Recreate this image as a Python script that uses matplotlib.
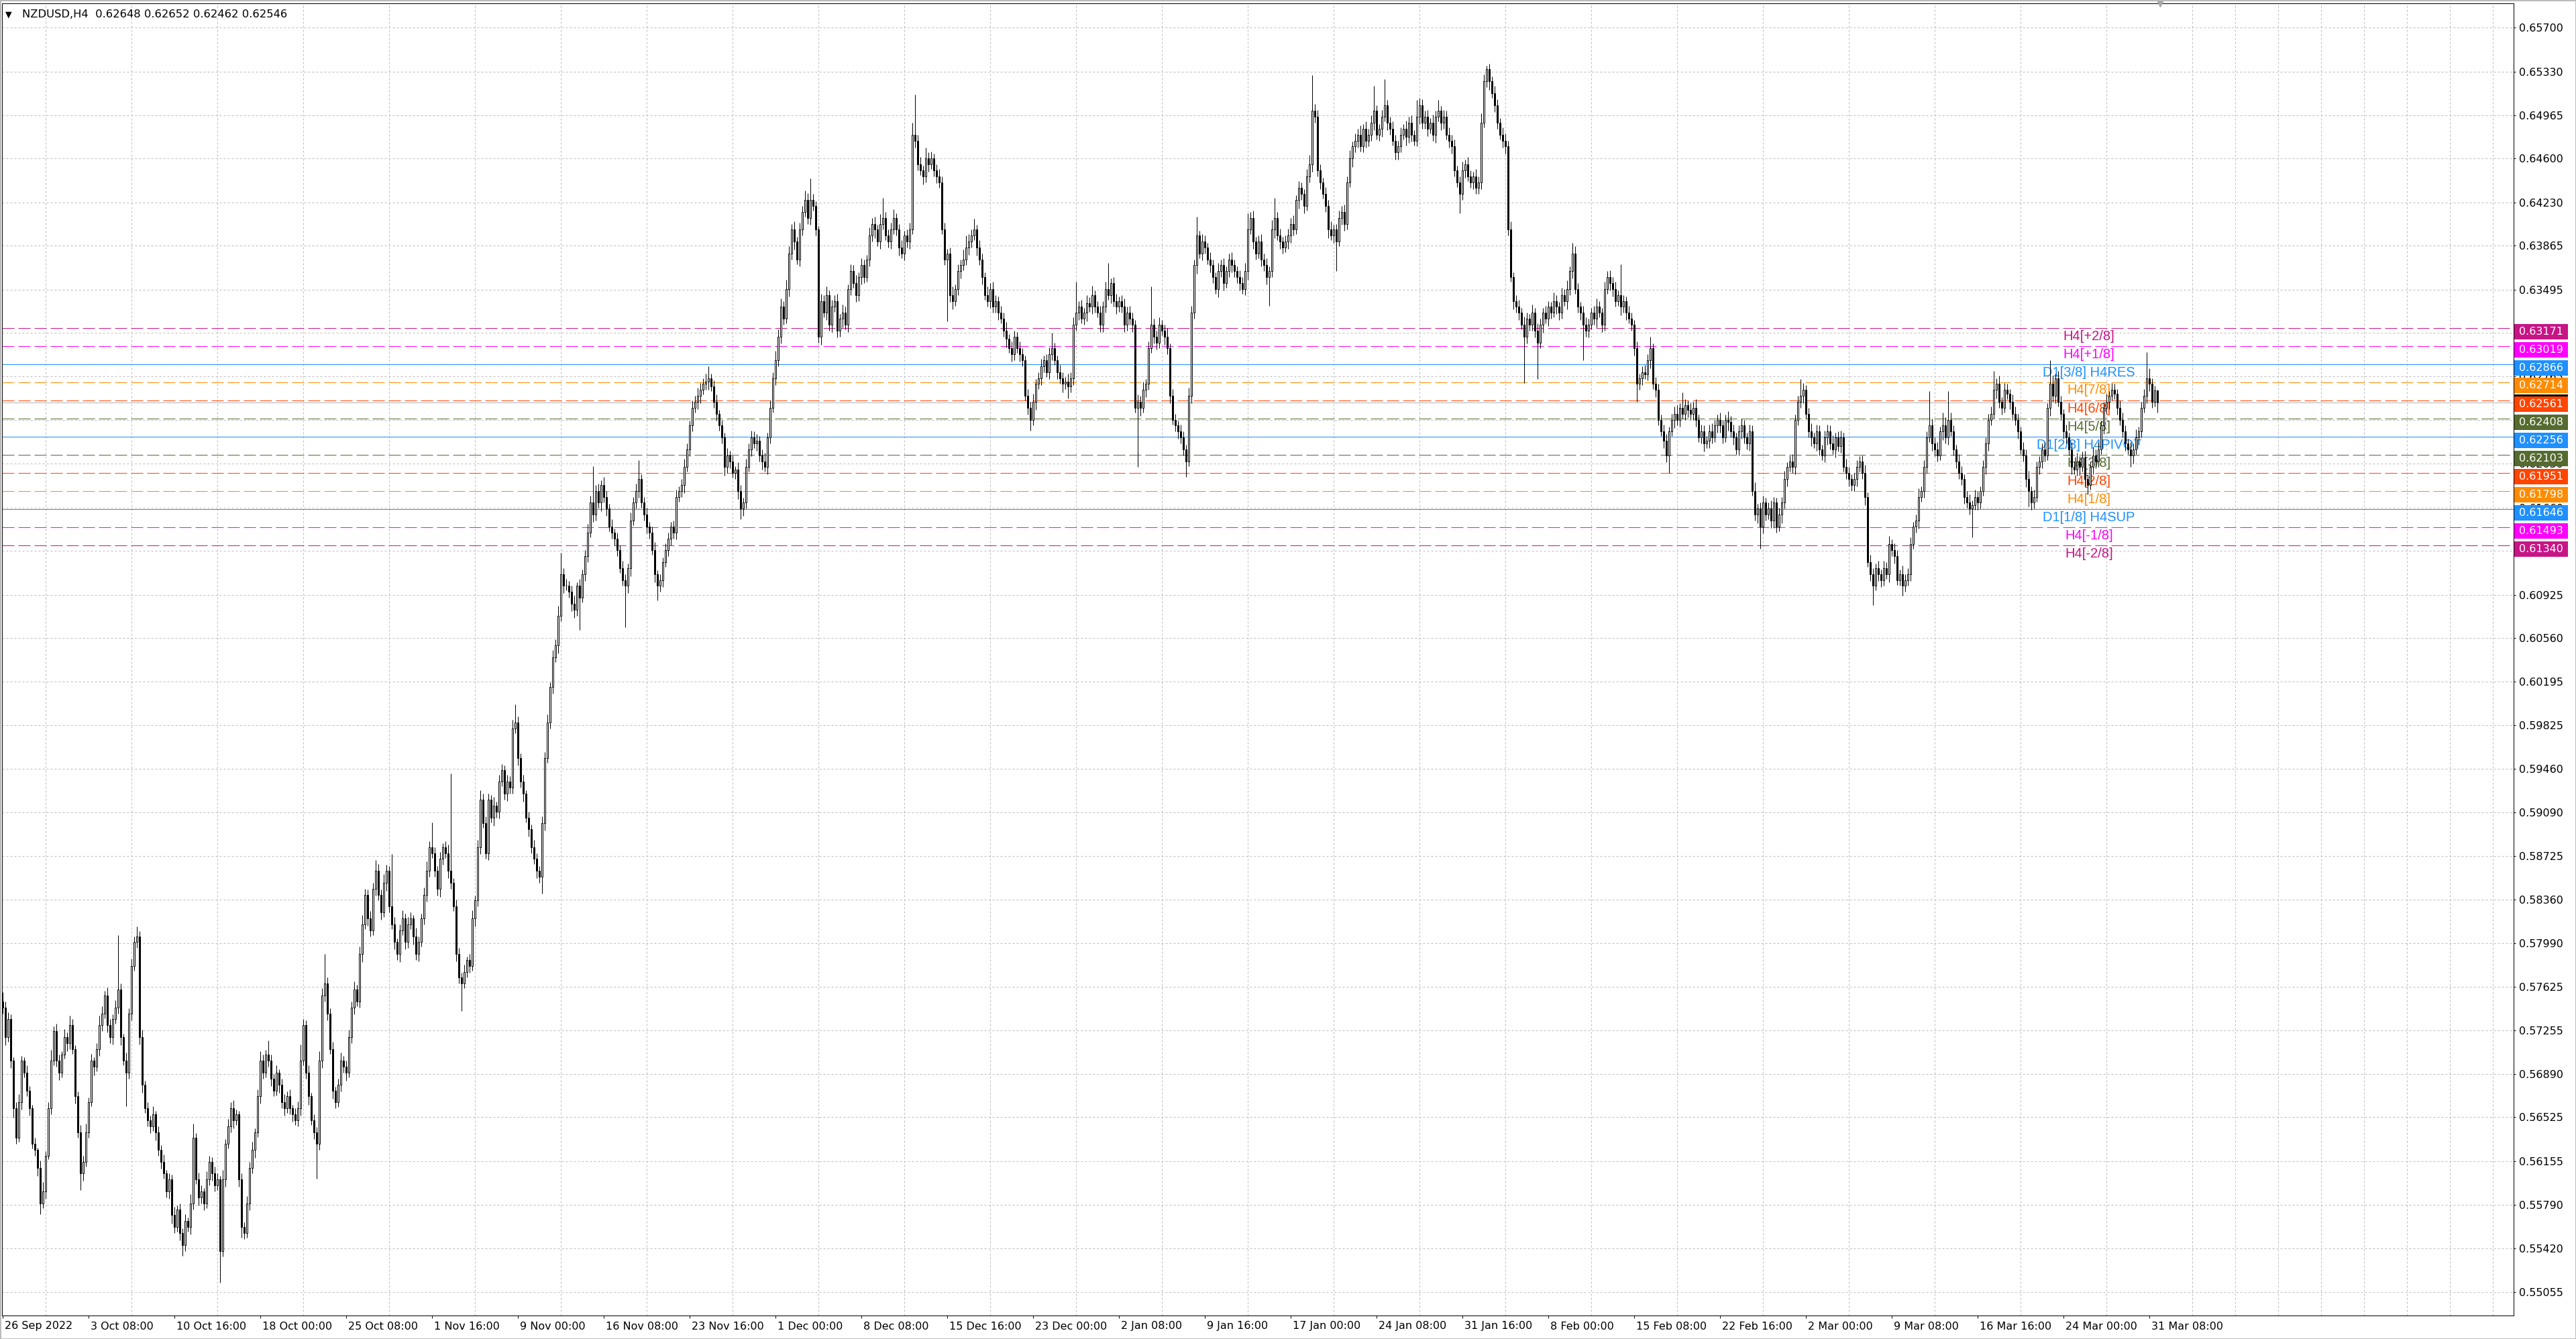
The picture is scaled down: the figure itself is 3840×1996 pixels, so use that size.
import matplotlib
matplotlib.use("Agg")
import matplotlib.pyplot as plt
import numpy as np
from matplotlib.patches import Rectangle
from matplotlib.transforms import IdentityTransform, offset_copy, blended_transform_factory

plt.rcParams['lines.scale_dashes'] = False
plt.rcParams['font.family'] = ['DejaVu Sans']

W, H, DPI = 3840, 1996, 100

# ---------------- data ----------------
symbol = "NZDUSD,H4"
last_ohlc = [0.62648, 0.62652, 0.62462, 0.62546]
bid_price = 0.62546

first_open = 5750  # price * 1e4
closes = [
    5745,5720,5735,5700,5660,5635,5665,5700,5690,5675,
    5660,5630,5625,5610,5580,5590,5620,5660,5700,5725,
    5700,5690,5705,5720,5715,5730,5710,5670,5640,5605,
    5615,5640,5665,5700,5695,5710,5730,5740,5755,5730,
    5720,5735,5745,5760,5720,5700,5690,5740,5780,5800,
    5805,5720,5680,5660,5650,5645,5655,5640,5625,5615,
    5605,5590,5600,5570,5560,5575,5555,5545,5565,5560,
    5580,5635,5600,5585,5590,5580,5600,5615,5605,5595,
    5600,5540,5600,5630,5645,5660,5650,5655,5600,5560,
    5555,5580,5610,5625,5640,5670,5700,5690,5705,5700,
    5685,5675,5690,5680,5665,5660,5670,5660,5655,5650,
    5660,5700,5730,5690,5670,5650,5640,5630,5700,5755,
    5765,5740,5710,5675,5665,5680,5700,5695,5690,5720,
    5745,5760,5750,5790,5815,5840,5820,5810,5845,5860,
    5840,5825,5850,5860,5830,5815,5800,5790,5810,5820,
    5800,5815,5820,5805,5790,5800,5820,5840,5860,5880,
    5875,5860,5845,5870,5880,5875,5860,5850,5830,5790,
    5770,5765,5775,5785,5780,5820,5835,5880,5920,5900,
    5875,5920,5905,5915,5910,5935,5945,5925,5935,5930,
    5980,5985,5955,5935,5925,5905,5895,5880,5870,5860,
    5855,5900,5955,5985,6015,6040,6050,6075,6110,6100,
    6100,6095,6085,6080,6100,6090,6110,6125,6145,6170,
    6160,6180,6170,6185,6175,6165,6150,6145,6140,6130,
    6115,6105,6100,6115,6155,6170,6180,6190,6170,6160,
    6150,6145,6130,6110,6100,6105,6120,6130,6140,6150,
    6145,6175,6180,6185,6200,6215,6235,6250,6255,6260,
    6265,6270,6272,6275,6268,6255,6245,6235,6225,6200,
    6210,6205,6195,6198,6180,6165,6170,6200,6215,6225,
    6220,6222,6210,6205,6200,6225,6250,6275,6290,6310,
    6335,6325,6350,6380,6400,6390,6375,6400,6415,6425,
    6410,6425,6420,6400,6310,6340,6330,6345,6320,6335,
    6340,6315,6325,6330,6320,6350,6365,6355,6345,6360,
    6370,6360,6375,6395,6405,6400,6390,6405,6410,6395,
    6390,6400,6410,6400,6385,6380,6395,6390,6400,6480,
    6475,6455,6450,6445,6460,6455,6460,6450,6445,6440,
    6400,6375,6380,6345,6340,6350,6365,6370,6375,6385,
    6390,6395,6400,6385,6375,6360,6345,6340,6350,6335,
    6340,6330,6325,6315,6308,6300,6295,6310,6300,6295,
    6290,6260,6250,6240,6255,6270,6275,6285,6290,6280,
    6295,6300,6290,6280,6275,6270,6272,6268,6275,6320,
    6330,6335,6325,6330,6338,6335,6345,6335,6330,6320,
    6335,6350,6345,6355,6340,6335,6340,6335,6320,6330,
    6325,6320,6250,6255,6250,6265,6270,6300,6320,6310,
    6305,6320,6315,6310,6300,6260,6240,6235,6230,6225,
    6215,6205,6260,6330,6370,6395,6380,6390,6385,6375,
    6370,6360,6350,6365,6370,6355,6365,6375,6370,6365,
    6360,6355,6350,6365,6400,6410,6390,6380,6390,6375,
    6370,6360,6365,6400,6410,6395,6390,6385,6390,6395,
    6405,6400,6425,6435,6430,6420,6445,6455,6500,6495,
    6450,6440,6430,6420,6400,6395,6400,6390,6410,6415,
    6405,6440,6460,6470,6475,6480,6470,6485,6475,6480,
    6490,6500,6480,6485,6495,6505,6490,6485,6475,6465,
    6470,6480,6485,6478,6490,6480,6475,6495,6505,6490,
    6495,6485,6490,6480,6495,6500,6490,6495,6480,6475,
    6470,6450,6440,6430,6450,6455,6445,6440,6445,6435,
    6440,6490,6525,6535,6525,6515,6505,6490,6480,6475,
    6470,6400,6360,6340,6335,6330,6320,6310,6325,6320,
    6330,6315,6305,6320,6330,6325,6335,6330,6340,6335,
    6330,6345,6340,6350,6365,6380,6350,6335,6330,6320,
    6315,6320,6330,6325,6335,6330,6320,6350,6360,6355,
    6350,6340,6345,6335,6340,6330,6325,6320,6300,6270,
    6275,6280,6278,6290,6300,6270,6265,6240,6230,6222,
    6210,6230,6240,6245,6240,6250,6245,6252,6248,6245,
    6250,6240,6225,6230,6220,6222,6230,6225,6235,6240,
    6235,6225,6240,6238,6230,6225,6215,6230,6235,6225,
    6220,6230,6180,6160,6165,6150,6170,6160,6165,6155,
    6170,6150,6160,6170,6190,6200,6205,6200,6240,6255,
    6260,6265,6245,6230,6225,6220,6230,6215,6210,6225,
    6230,6220,6215,6225,6218,6225,6200,6195,6190,6185,
    6190,6200,6205,6195,6175,6120,6110,6100,6115,6110,
    6105,6115,6110,6135,6130,6125,6105,6110,6100,6105,
    6110,6135,6150,6155,6175,6180,6200,6225,6235,6220,
    6215,6210,6230,6235,6225,6240,6230,6215,6205,6195,
    6190,6175,6170,6165,6168,6175,6170,6180,6200,6220,
    6240,6245,6265,6270,6255,6250,6265,6262,6255,6245,
    6240,6230,6215,6210,6190,6180,6170,6175,6200,6205,
    6215,6210,6250,6270,6260,6275,6255,6245,6230,6225,
    6215,6200,6198,6205,6200,6208,6190,6185,6200,6210,
    6205,6215,6235,6250,6255,6260,6265,6262,6250,6240,
    6230,6220,6215,6210,6215,6225,6230,6250,6260,6275,
    6270,6255,6264.8,6254.6,
]

# upper wick above max(open, close), pips
up_wick = [
    8,5,6,4,3,5,7,4,3,6, 4,3,5,2,6,8,4,5,9,4, 6,5,3,7,4,8,5,3,4,6, 5,7,4,6,3,5,8,6,4,7,
    5,4,6,46,5,3,7,4,6,5, 8,4,6,3,5,4,7,3,5,4, 6,3,5,4,7,3,5,4,6,3, 8,12,4,6,5,3,7,5,4,6,
    5,3,8,4,6,5,7,4,3,5, 4,6,5,7,3,6,8,5,4,12, 5,4,6,3,5,7,4,6,3,5, 6,14,5,4,6,3,5,4,8,6,
    25,5,4,6,3,5,7,4,5,6, 5,7,4,6,8,5,4,6,5,9, 6,4,7,5,4,44,6,3,5,7, 4,6,5,3,7,5,4,6,8,5,
    21,5,4,6,3,5,7,82,4,6, 5,4,6,3,5,7,4,6,8,5, 6,5,4,7,3,6,5,4,6,5, 7,15,5,4,6,3,5,4,6,5,
    4,6,5,7,4,6,5,8,18,5, 6,4,5,7,3,6,4,5,7,6, 31,5,6,4,7,5,4,6,3,5, 4,6,5,4,7,5,6,16,4,5,
    6,4,5,7,3,5,4,6,5,4, 5,6,4,5,7,5,4,6,5,7, 6,5,7,10,4,5,6,3,5,4, 6,4,5,3,6,5,4,7,5,6,
    5,6,4,5,7,4,6,5,8,6, 7,5,8,6,5,7,4,6,5,8, 6,18,5,4,3,6,5,7,4,6, 5,6,4,7,5,4,6,5,7,4,
    6,5,4,7,5,6,4,8,17,5, 5,6,7,4,5,6,4,5,6,10, 34,5,6,4,9,5,6,4,5,6, 5,6,4,5,7,4,6,5,8,10,
    6,5,9,4,6,5,4,7,5,6, 5,4,6,5,7,4,6,5,4,6, 5,4,6,5,7,4,5,6,4,5, 6,13,5,4,6,5,4,7,5,6,
    26,5,6,4,7,5,8,4,5,6, 5,6,22,4,5,6,4,5,7,5, 6,5,4,6,5,7,4,6,32,5, 5,6,4,5,7,4,6,5,4,6,
    5,4,7,6,5,16,4,6,5,4, 6,5,4,7,5,6,4,5,6,5, 4,6,5,7,14,5,6,4,5,6, 5,6,4,8,17,5,6,4,5,6,
    5,7,4,6,5,4,6,8,30,6, 6,5,4,6,5,7,4,5,6,5, 6,5,7,4,6,5,8,4,6,5, 6,21,5,4,6,22,4,5,6,5,
    5,6,4,7,5,6,4,14,6,5, 5,6,4,7,5,9,4,6,5,6, 5,6,4,5,7,4,6,5,4,6, 5,8,6,3,5,4,6,5,4,6,
    6,5,7,4,5,6,4,7,5,4, 7,4,6,5,4,6,5,4,7,5, 4,6,5,7,4,9,6,5,4,6, 6,5,4,6,7,5,4,6,5,6,
    5,6,4,26,5,4,6,5,4,6, 4,5,6,5,10,4,6,5,4,6, 6,4,5,6,7,4,13,5,4,6, 5,7,4,6,5,4,6,7,5,4,
    6,5,4,7,5,6,4,5,6,5, 4,6,5,7,4,5,6,4,5,7, 5,4,6,5,7,4,5,6,4,5, 14,6,4,5,7,4,6,5,4,6,
    6,5,7,4,5,6,4,7,5,4, 5,6,4,5,7,4,6,5,4,6, 4,6,5,7,4,6,5,4,7,5, 5,6,4,5,7,4,6,5,29,6,
    5,6,4,11,7,24,6,5,4,6, 6,4,5,7,4,6,5,4,6,5, 5,6,16,5,7,4,6,5,4,6, 6,5,4,6,5,7,4,6,5,4,
    5,6,4,20,7,4,6,5,4,6, 4,6,5,7,4,5,6,4,5,7, 5,6,4,5,7,4,6,5,4,6, 6,5,4,6,5,7,4,5,6,22,
    8,5,4,0.4,
]

# lower wick below min(open, close), pips
dn_wick = [
    5,7,4,6,8,5,3,6,4,5, 6,4,5,7,9,4,6,3,5,4, 5,6,4,3,7,5,4,6,5,14, 6,4,5,3,7,4,6,5,4,6,
    5,6,4,5,7,4,28,5,6,4, 5,6,7,4,5,6,4,7,5,6, 4,5,6,7,5,4,6,9,5,4, 6,5,4,7,5,6,4,5,6,5,
    4,27,5,6,4,5,7,4,6,9, 5,4,6,5,7,4,6,5,4,5, 6,5,4,7,5,6,4,5,6,4, 5,6,4,5,7,4,6,29,5,6,
    5,6,4,7,5,4,6,5,7,4, 5,6,4,5,7,4,6,5,4,6, 5,6,4,7,5,4,6,5,7,4, 6,5,4,7,5,6,4,5,6,5,
    4,5,6,7,5,4,6,5,4,6, 5,23,4,5,6,4,7,5,6,4, 5,6,4,7,5,6,4,5,6,5, 5,4,6,5,7,4,6,5,4,6,
    5,14,6,4,5,6,4,7,5,6, 4,5,6,7,5,27,4,6,5,4, 6,5,4,7,5,6,4,5,6,5, 4,5,35,6,7,4,5,6,4,5,
    6,5,4,7,12,5,6,4,5,6, 5,6,4,5,7,4,6,5,4,6, 6,4,5,7,4,5,6,4,5,7, 5,6,4,5,7,9,6,5,4,6,
    4,6,5,7,4,6,5,4,6,5, 6,5,4,6,5,7,4,6,5,4, 5,6,4,5,5,7,4,6,5,6, 4,6,5,7,4,6,5,4,6,5,
    6,5,4,6,5,7,4,6,5,4, 5,6,4,5,7,4,6,5,6,4, 6,5,4,7,5,6,4,5,6,5, 4,5,52,6,7,4,5,6,4,5,
    6,5,4,7,5,6,4,5,6,5, 5,6,4,5,7,4,6,5,4,6, 5,4,6,9,5,7,4,6,5,4, 6,5,4,6,5,7,4,10,5,6,
    5,6,4,5,7,4,6,5,4,6, 6,5,4,7,5,6,4,5,6,5, 5,6,4,50,7,4,6,5,4,6, 6,5,4,7,5,6,4,5,6,5,
    5,13,4,6,5,7,4,6,5,4, 6,5,4,7,5,6,4,5,6,5, 5,6,4,5,7,4,6,5,4,6, 5,6,24,5,7,4,6,5,4,6,
    6,5,4,7,5,6,4,5,6,5, 5,6,4,5,7,4,6,25,4,6, 6,5,4,7,5,6,4,5,6,5, 5,6,4,5,7,4,6,5,4,6,
    6,5,4,7,5,6,4,5,6,5, 5,6,4,5,7,4,6,5,4,6, 6,5,4,16,5,6,4,5,6,5, 5,6,4,5,7,4,6,5,4,6,
    6,5,4,7,5,6,4,39,6,5, 5,6,31,5,7,4,6,5,4,6, 6,5,4,7,5,6,4,5,6,30, 5,6,4,5,7,4,6,5,4,6,
    6,5,4,7,5,6,4,5,6,15, 5,6,4,5,7,4,6,5,4,6, 6,15,4,7,5,6,4,5,6,5, 5,6,4,5,7,4,6,5,4,6,
    6,5,4,7,5,6,4,5,6,5, 5,6,4,5,7,19,6,5,4,6, 6,5,4,7,5,6,4,5,6,5, 5,6,4,5,7,4,6,5,4,6,
    6,5,4,7,5,6,4,5,6,5, 5,6,4,5,7,4,6,16,4,6, 6,5,4,7,5,6,4,5,8,5, 5,6,4,5,7,4,6,5,4,6,
    6,5,4,7,5,6,4,5,6,5, 5,6,4,5,24,4,6,5,4,6, 6,5,4,7,5,6,4,5,6,5, 5,6,4,5,7,13,6,5,4,6,
    6,5,4,7,5,6,4,5,6,5, 5,6,4,5,7,4,6,8,4,6, 6,5,4,7,5,6,4,5,6,5, 5,6,4,10,7,4,6,5,4,6,
    6,5,4,8.4,
]

x_labels = ["26 Sep 2022", "3 Oct 08:00", "10 Oct 16:00", "18 Oct 00:00", "25 Oct 08:00",
            "1 Nov 16:00", "9 Nov 00:00", "16 Nov 08:00", "23 Nov 16:00", "1 Dec 00:00",
            "8 Dec 08:00", "15 Dec 16:00", "23 Dec 00:00", "2 Jan 08:00", "9 Jan 16:00",
            "17 Jan 00:00", "24 Jan 08:00", "31 Jan 16:00", "8 Feb 00:00", "15 Feb 08:00",
            "22 Feb 16:00", "2 Mar 00:00", "9 Mar 08:00", "16 Mar 16:00", "24 Mar 00:00",
            "31 Mar 08:00"]
label_every = 32

y_ticks = [0.65700, 0.65330, 0.64965, 0.64600, 0.64230, 0.63865, 0.63495, 0.63130,
           0.62765, 0.62395, 0.62030, 0.61660, 0.61295, 0.60925, 0.60560, 0.60195,
           0.59825, 0.59460, 0.59090, 0.58725, 0.58360, 0.57990, 0.57625, 0.57255,
           0.56890, 0.56525, 0.56155, 0.55790, 0.55420, 0.55055]

level_prices = [0.63171, 0.63019, 0.62866, 0.62714, 0.62561, 0.62408, 0.62256,
                0.62103, 0.61951, 0.61798, 0.61646, 0.61493, 0.61340]
level_names = ["H4[+2/8]", "H4[+1/8]", "D1[3/8] H4RES", "H4[7/8]", "H4[6/8]", "H4[5/8]",
               "D1[2/8] H4PIVOT", "H4[3/8]", "H4[2/8]", "H4[1/8]", "D1[1/8] H4SUP",
               "H4[-1/8]", "H4[-2/8]"]
level_colors = ["#C71585", "#FF00FF", "#1E90FF", "#FF8C00", "#FF4500", "#556B2F", "#1E90FF",
                "#556B2F", "#FF4500", "#FF8C00", "#1E90FF", "#FF00FF", "#C71585"]
level_solid = [False, False, True, False, False, False, True,
               False, False, False, True, False, False]

# ---------------- figure ----------------
n = min(len(closes), len(up_wick), len(dn_wick))
c = np.array(closes[:n], dtype=float) / 1e4
o = np.concatenate([[first_open / 1e4], c[:-1]])
hi = np.maximum(o, c) + np.array(up_wick[:n], dtype=float) / 1e4
lo = np.minimum(o, c) - np.array(dn_wick[:n], dtype=float) / 1e4
x = np.arange(n)

fig = plt.figure(figsize=(W / DPI, H / DPI), dpi=DPI)
fig.patch.set_facecolor("white")
ax = fig.add_axes([3 / W, (H - 1961) / H, (3747 - 3) / W, (1961 - 4.5) / H])
ax.set_facecolor("white")
ax.set_xlim(-0.25, 935.75)
ax.set_ylim(0.54855, 0.65909)

px = 0.72  # one pixel in points
grid_kw = dict(color="#bcbcbc", lw=px, linestyle=(0, (3 * px, 3 * px)))

# y axis on the right
ax.yaxis.tick_right()
ax.set_yticks(y_ticks)
ax.set_yticklabels([f"{v:.5f}" for v in y_ticks], fontsize=11.5, color="black")
ax.tick_params(axis="y", direction="out", length=3 * px, width=px, pad=5 * px)
ax.grid(True, axis="y", which="major", **grid_kw)

# x axis
ax.set_xticks(np.arange(0, len(x_labels) * label_every, label_every))
ax.set_xticklabels([])
ax.set_xticks(np.arange(0, 936, 16), minor=True)
ax.tick_params(axis="x", which="major", direction="out", length=4 * px, width=px)
ax.tick_params(axis="x", which="minor", length=0)
ax.grid(True, axis="x", which="minor", **grid_kw)
ax.set_axisbelow(True)
for s in ax.spines.values():
    s.set_linewidth(px)
    s.set_color("black")

xtrans = offset_copy(blended_transform_factory(ax.transData, ax.transAxes), fig=fig,
                     x=3, y=-16, units="dots")
for k, lab in enumerate(x_labels):
    ax.text(k * label_every, 0, lab, transform=xtrans, ha="left", va="center",
            fontsize=11.5, clip_on=False)

# level lines
for p, col, solid in zip(level_prices, level_colors, level_solid):
    ls = "-" if solid else (0, (18 * px, 6 * px))
    ax.axhline(p, color=col, lw=px, linestyle=ls, zorder=2)

# bid line
ax.axhline(bid_price, color="#b4b4b4", lw=px, zorder=2)

# level labels on chart
lab_trans = offset_copy(ax.transData, fig=fig, y=-12, units="dots")
label_bar = 777.5
for p, name, col in zip(level_prices, level_names, level_colors):
    ax.text(label_bar, p, name, transform=lab_trans, ha="center", va="center",
            fontsize=14.5, color=col, family="Liberation Sans", zorder=2.5)

# candles
ax.vlines(x, lo, hi, color="black", lw=px, zorder=4)
bull = c >= o
ax.bar(x[bull], (c - o)[bull], bottom=o[bull], width=0.65, facecolor="white",
       edgecolor="black", lw=px, zorder=5)
ax.bar(x[~bull], (o - c)[~bull], bottom=c[~bull], width=0.65, facecolor="black",
       edgecolor="black", lw=px, zorder=5)

# shift marker at top
ax.plot([n], [1.0], marker="v", markersize=7, color="#a8a8a8",
        transform=blended_transform_factory(ax.transData, ax.transAxes), clip_on=False,
        zorder=6)

# price boxes on the right axis
fig.canvas.draw()
ax_right = ax.transAxes.transform((1, 0))[0]
box_w, box_h = 80, 23
yb = ax.transData.transform((0, bid_price))[1]
fig.add_artist(Rectangle((ax_right + 1, yb - box_h / 2), box_w, box_h, facecolor="black",
                         edgecolor="none", transform=IdentityTransform(), zorder=1.0))
fig.text(ax_right + 1 + box_w / 2, yb, f"{bid_price:.5f}", transform=IdentityTransform(),
         ha="center", va="center", fontsize=11.5, color="white", zorder=1.1)
for p, col in zip(level_prices, level_colors):
    yp = ax.transData.transform((0, p))[1] - 5
    fig.add_artist(Rectangle((ax_right + 1, yp - box_h / 2), box_w, box_h, facecolor=col,
                             edgecolor="none", transform=IdentityTransform(), zorder=1.5))
    fig.text(ax_right + 1 + box_w / 2, yp, f"{p:.5f}", transform=IdentityTransform(),
             ha="center", va="center", fontsize=11.5, color="white", zorder=3)

# header
fig.text(13, H - 22, "\u25BC", transform=IdentityTransform(), ha="center", va="center",
         fontsize=9, color="black")
fig.text(33, H - 22, f"{symbol}  " + " ".join(f"{v:.5f}" for v in last_ohlc),
         transform=IdentityTransform(), ha="left", va="center", fontsize=11.8, color="black")

# screenshot border
fig.add_artist(Rectangle((0, 0), 1, 1, transform=fig.transFigure, fill=False,
                         edgecolor="#b8b8b8", lw=2, zorder=10))

fig.savefig("out.png", dpi=DPI, facecolor="white")
